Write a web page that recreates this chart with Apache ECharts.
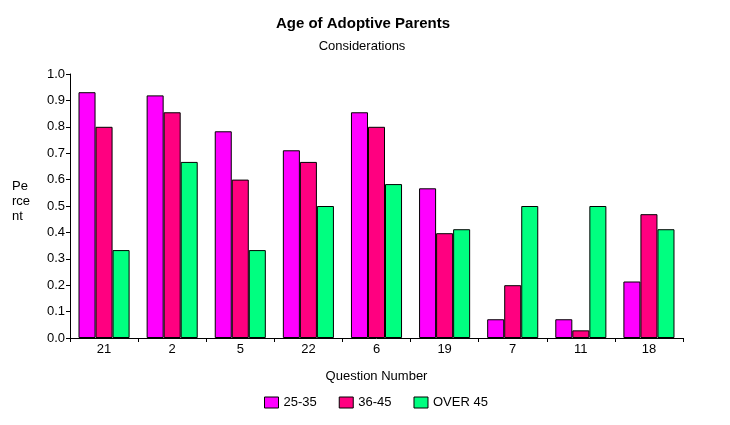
<!DOCTYPE html>
<html>
<head>
<meta charset="utf-8">
<script src="https://cdn.jsdelivr.net/npm/echarts@6/dist/echarts.min.js"></script>
<style>html,body{margin:0;padding:0;background:#fff;}#c{width:730px;height:425px;}</style>
</head>
<body>
<div id="c"></div>
<script>
const categories = ['21','2','5','22','6','19','7','11','18'];
const seriesNames = ['25-35','36-45','OVER 45'];
const age25_35 = [0.931, 0.919, 0.783, 0.711, 0.855, 0.567, 0.071, 0.071, 0.214];
const age36_45 = [0.800, 0.855, 0.600, 0.667, 0.800, 0.397, 0.200, 0.029, 0.469];
const over45   = [0.333, 0.667, 0.333, 0.500, 0.583, 0.412, 0.500, 0.500, 0.412];
const yTicks = [0,0.1,0.2,0.3,0.4,0.5,0.6,0.7,0.8,0.9,1.0];
const colors = ['#FF00FF','#FF0080','#00FF80'];
const font = 'Liberation Sans, Arial, sans-serif';

const chart = echarts.init(document.getElementById('c'));
const dataSets = [age25_35, age36_45, over45];
chart.setOption({
  animation: false,
  backgroundColor: '#fff',
  title: [{
    text: 'Age of Adoptive Parents',
    left: 358, top: 11, textAlign: 'center',
    textStyle: {fontFamily: font, fontSize: 15, fontWeight: 'bold', color: '#000'}
  },{
    text: 'Considerations',
    left: 357, top: 35, textAlign: 'center',
    textStyle: {fontFamily: font, fontSize: 13, fontWeight: 'normal', color: '#000'}
  }],
  graphic: [{
    type: 'text', left: 12, top: 179,
    style: {text: 'Pe\nrce\nnt', font: '13px ' + font, fill: '#000', lineHeight: 15}
  }],
  legend: {
    data: seriesNames,
    left: 259, top: 391,
    itemWidth: 14, itemHeight: 11, itemGap: 22,
    icon: 'rect',
    textStyle: {fontFamily: font, fontSize: 13, color: '#000'},
    itemStyle: {borderColor: '#000', borderWidth: 1}
  },
  grid: {left: 70, right: 47, top: 74, bottom: 87, containLabel: false},
  xAxis: {
    type: 'category', data: categories,
    name: 'Question Number', nameLocation: 'middle', nameGap: 32,
    nameTextStyle: {fontFamily: font, fontSize: 13, color: '#000'},
    axisLine: {lineStyle: {color: '#000', width: 1}},
    axisTick: {show: true, length: 4, lineStyle: {color: '#000'}, inside: false},
    axisLabel: {fontFamily: font, fontSize: 13, color: '#000', margin: 5},
    splitLine: {show: false}
  },
  yAxis: {
    type: 'value', min: 0, max: 1, interval: 0.1,
    axisLine: {show: true, lineStyle: {color: '#000', width: 1}},
    axisTick: {show: true, length: 4, lineStyle: {color: '#000'}},
    axisLabel: {fontFamily: font, fontSize: 13, color: '#000', margin: 5,
      formatter: v => v.toFixed(1)},
    splitLine: {show: false}
  },
  series: seriesNames.map((n, i) => ({
    name: n, type: 'bar', data: dataSets[i],
    barGap: '0%', barCategoryGap: '25%',
    itemStyle: {color: colors[i], borderColor: '#000', borderWidth: 1}
  }))
});
</script>
</body>
</html>
